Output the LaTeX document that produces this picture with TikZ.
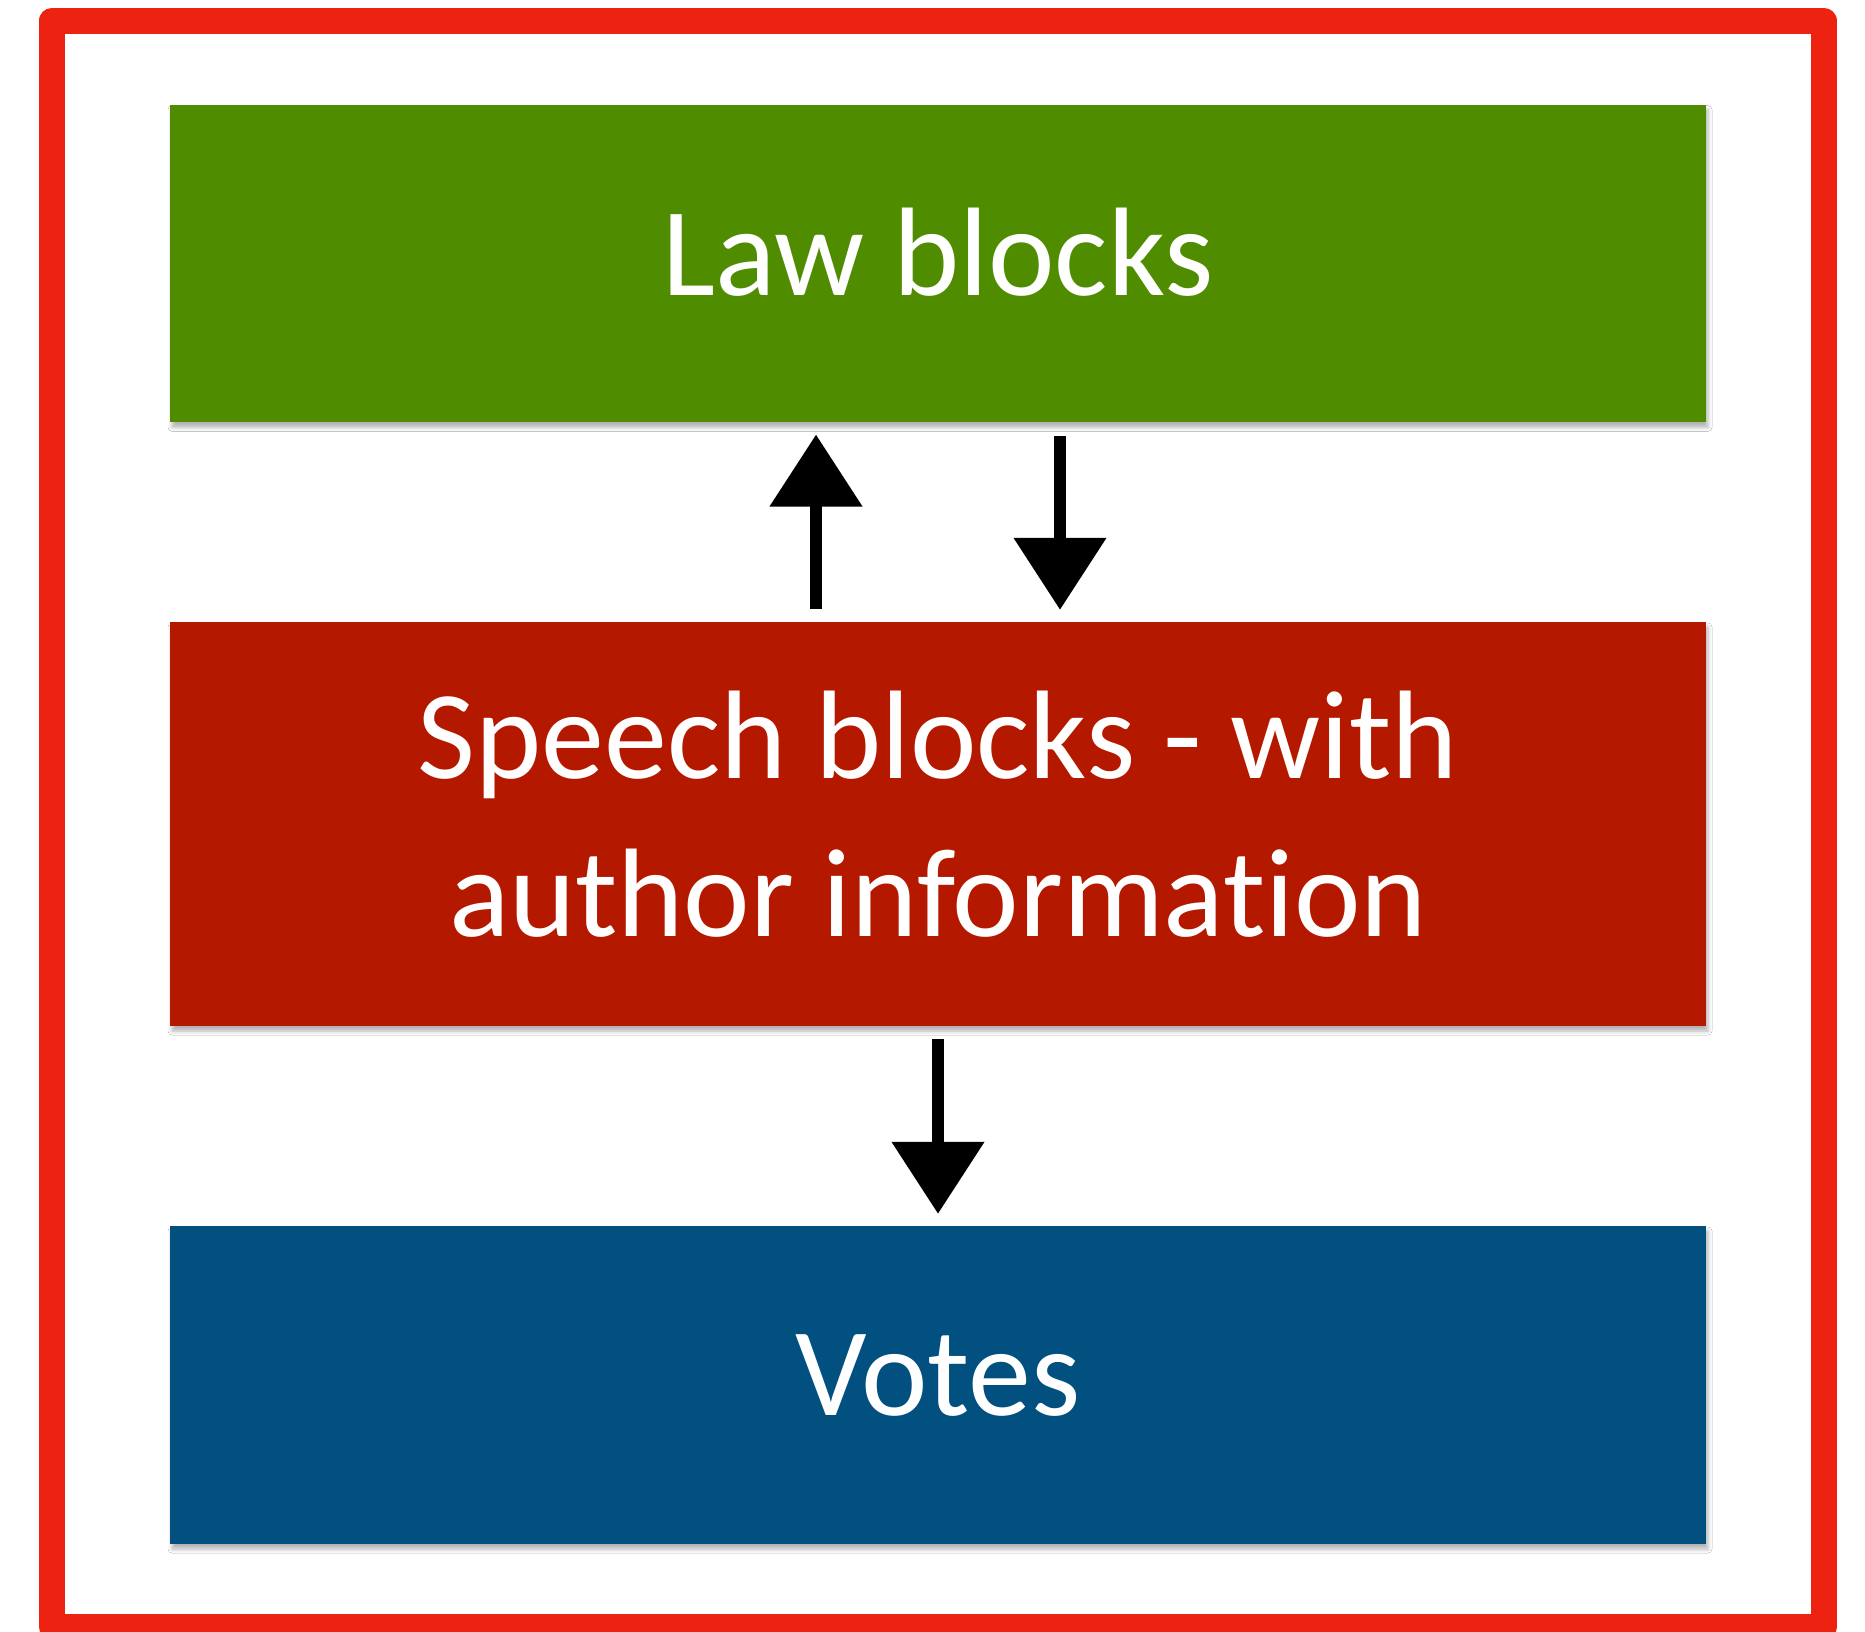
\documentclass[tikz,border=0pt]{standalone}
\usepackage{fontspec}
\setmainfont{Carlito}[Ligatures=NoCommon]
\usetikzlibrary{arrows.meta,shadows.blur}
\definecolor{framered}{RGB}{238,34,16}
\definecolor{lawgreen}{RGB}{79,140,0}
\definecolor{speechred}{RGB}{180,25,0}
\definecolor{voteblue}{RGB}{2,80,128}
\begin{document}
\begin{tikzpicture}[x=1pt,y=-1pt,
  block/.style={rectangle, draw=none, minimum width=1536pt, inner sep=0pt,
    blur shadow={shadow xshift=2pt, shadow yshift=-5pt,
      shadow blur radius=4pt, shadow opacity=30}},
  caption/.style={anchor=base, inner sep=0pt, text=white, align=center,
    font=\fontsize{126}{158}\selectfont},
  flow/.style={line width=11.7pt, -{Triangle[width=90pt,length=72pt]},
    shorten <=13pt, shorten >=12pt}]
  % page area
  \clip (0,0) rectangle (1865,1631);
  \fill[white] (0,0) rectangle (1865,1631);
  % outer frame
  \draw[framered, line width=26pt, line join=round] (52,20.5) rectangle (1823.5,1627);
  % the three blocks
  \node[block, fill=lawgreen, minimum height=317.7pt] (law) at (938,263.5) {};
  \node[block, fill=speechred, minimum height=404pt] (speech) at (938,824) {};
  \node[block, fill=voteblue, minimum height=318pt] (votes) at (938,1385) {};
  % their captions (base anchor = baseline of the last line)
  \node[caption] (lawtext) at ([yshift=-31.5pt]law.center) {Law blocks};
  \node[caption] (speechtext) at ([yshift=-112pt]speech.center) {Speech blocks - with\\author information};
  \node[caption] (votestext) at ([yshift=-30pt]votes.center) {Votes};
  % connectors
  \draw[flow] ([xshift=-122pt]speech.north) -- ([xshift=-122pt]law.south);
  \draw[flow] ([xshift=122pt]law.south) -- ([xshift=122pt]speech.north);
  \draw[flow] (speech.south) -- (votes.north);
\end{tikzpicture}
\end{document}
